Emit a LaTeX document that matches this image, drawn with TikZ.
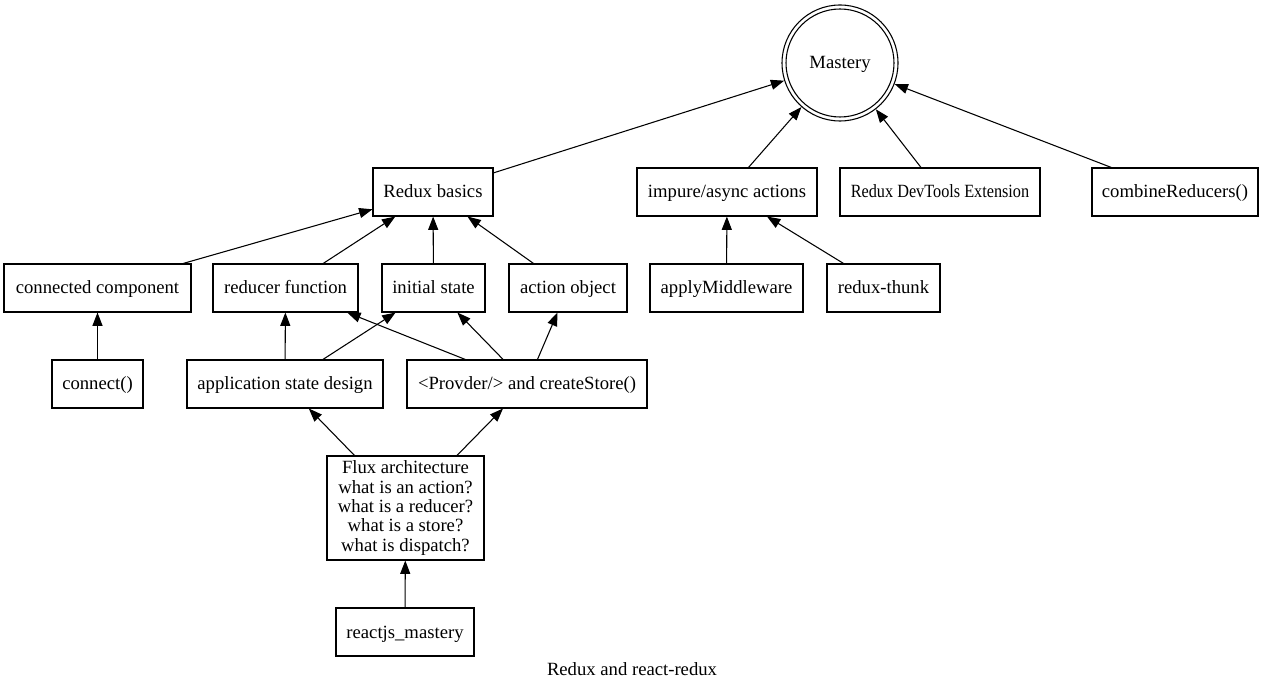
\documentclass[tikz,border=0pt]{standalone}
\usepackage{fontspec}
\setmainfont{Liberation Serif}
\usetikzlibrary{arrows.meta}
\begin{document}
\begin{tikzpicture}[x=0.75pt,y=-0.75pt,
  every node/.style={font=\fontsize{14pt}{14.5pt}\selectfont},
  boxbase/.style={draw,line width=0.8pt,rectangle,minimum height=36pt,inner sep=0pt,align=center},
  box/.style={boxbase,text height=10pt,text depth=1pt},
  edge/.style={line width=0.8pt,-{Triangle[length=10pt,width=7.5pt]}}]
\useasboundingbox (0,0) rectangle (1264,691);
\node[draw,circle,line width=0.8pt,minimum size=87pt,inner sep=0pt,text height=10pt,text depth=1pt] (M) at (840,63) {Mastery};
\draw[line width=0.8pt] (M.center) circle[radius=40.5pt];
\node[box,minimum width=90pt] (RB) at (433,192) {Redux basics};
\node[box,minimum width=135pt] (IA) at (727,192) {impure/async actions};
\node[box,minimum width=150pt] (DT) at (940,192) {\scalebox{0.87}[1]{Redux DevTools Extension}};
\node[box,minimum width=124.5pt] (CR) at (1175,192) {combineReducers()};
\node[box,minimum width=140.25pt] (CC) at (97.5,288) {connected component};
\node[box,minimum width=108.75pt] (RF) at (285.5,288) {reducer function};
\node[box,minimum width=77.25pt] (IS) at (433.5,288) {initial state};
\node[box,minimum width=88.5pt] (AO) at (568,288) {action object};
\node[box,minimum width=114.75pt] (AM) at (726.5,288) {applyMiddleware};
\node[box,minimum width=84.75pt] (RT) at (883.5,288) {redux-thunk};
\node[box,minimum width=68.25pt] (CN) at (97.5,384) {connect()};
\node[box,minimum width=147pt] (AS) at (285,384) {application state design};
\node[box,minimum width=180pt] (PR) at (527,384) {<Provder/> and createStore()};
\node[boxbase,minimum width=117.75pt,minimum height=78pt] (FX) at (405.5,508) {Flux architecture\\what is an action?\\what is a reducer?\\what is a store?\\what is dispatch?};
\node[box,minimum width=103.5pt] (RM) at (405,632) {reactjs\_mastery};
\node[text height=10pt,text depth=1pt] (T) at (632,669) {Redux and react-redux};
\draw[edge] (RB) -- (M);
\draw[edge] (IA) -- (M);
\draw[edge] (DT) -- (M);
\draw[edge] (CR) -- (M);
\draw[edge] (CC) -- (RB);
\draw[edge] (RF) -- (RB);
\draw[edge] (IS) -- (RB);
\draw[edge] (AO) -- (RB);
\draw[edge] (AM) -- (IA);
\draw[edge] (RT) -- (IA);
\draw[edge] (CN) -- (CC);
\draw[edge] (AS) -- (RF);
\draw[edge] (AS) -- (IS);
\draw[edge] (PR) -- (RF);
\draw[edge] (PR) -- (IS);
\draw[edge] (PR) -- (AO);
\draw[edge] (FX) -- (AS);
\draw[edge] (FX) -- (PR);
\draw[edge] (RM) -- (FX);
\end{tikzpicture}
\end{document}
